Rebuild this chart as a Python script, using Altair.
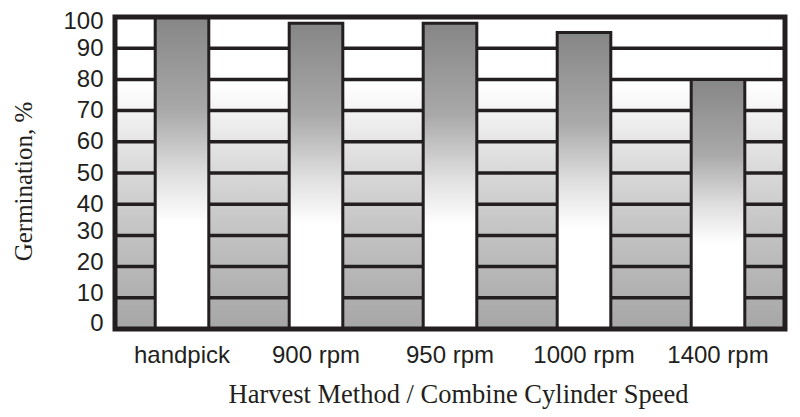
import altair as alt
import pandas as pd

categories = ["handpick", "900 rpm", "950 rpm", "1000 rpm", "1400 rpm"]
germination = [100, 98, 98, 95, 80]
grid_values = [10, 20, 30, 40, 50, 60, 70, 80, 90]
y_ticks = [0, 10, 20, 30, 40, 50, 60, 70, 80, 90, 100]

W, H = 670, 312
INK = "#231f20"

bars_df = pd.DataFrame({"method": categories, "germ": germination})
grid_df = pd.DataFrame({"g": grid_values})
one_df = pd.DataFrame({"a": [0]})

bg_grad = alt.LinearGradient(
    gradient="linear", x1=0, x2=0, y1=0, y2=1,
    stops=[
        alt.GradientStop(color="#ffffff", offset=0),
        alt.GradientStop(color="#ffffff", offset=0.22),
        alt.GradientStop(color="#efefef", offset=0.33),
        alt.GradientStop(color="#d8d8d8", offset=0.5),
        alt.GradientStop(color="#c2c2c2", offset=0.7),
        alt.GradientStop(color="#a6a6a6", offset=1),
    ],
)
bar_grad = alt.LinearGradient(
    gradient="linear", x1=0, x2=0, y1=0, y2=1,
    stops=[
        alt.GradientStop(color="#868686", offset=0),
        alt.GradientStop(color="#a9a9a9", offset=0.3),
        alt.GradientStop(color="#dedede", offset=0.5),
        alt.GradientStop(color="#ffffff", offset=0.66),
        alt.GradientStop(color="#ffffff", offset=1),
    ],
)

yscale = alt.Scale(domain=[0, 100], nice=False, zero=True)

label_offset = {
    "condition": [
        {"test": "datum.value == 100", "value": 4},
        {"test": "datum.value <= 30 && datum.value >= 10", "value": -4},
        {"test": "datum.value == 0", "value": -6},
    ],
    "value": 0,
}

yaxis = alt.Axis(
    values=y_ticks, grid=False, ticks=False, domain=False, labelPadding=12,
    labelOverlap=False, labelOffset=label_offset,
    labelFont="Liberation Sans", labelFontSize=24, labelColor=INK,
    title="Germination, %",
    titleFont="Liberation Serif", titleFontSize=25, titleFontWeight="normal",
    titleColor=INK, titleX=-84, titleY=164, titleBaseline="alphabetic",
    titleAlign="center", titleAngle=270,
)

background = alt.Chart(one_df).mark_rect(fill=bg_grad, strokeWidth=0).encode(
    x=alt.value(0), x2=alt.value(W),
    y=alt.YDatum(100, scale=yscale, axis=yaxis), y2=alt.Y2Datum(0),
)

grid = alt.Chart(grid_df).mark_rule(color=INK, strokeWidth=3.5).encode(
    y=alt.Y("g:Q", scale=yscale, axis=yaxis),
    x=alt.value(0), x2=alt.value(W),
)

bars = alt.Chart(bars_df).mark_bar(fill=bar_grad, stroke=INK, strokeWidth=3).encode(
    x=alt.X(
        "method:N", sort=None,
        scale=alt.Scale(paddingInner=0.6, paddingOuter=0.3),
        axis=alt.Axis(
            title="Harvest Method / Combine Cylinder Speed",
            labelAngle=0, ticks=False, domain=False, labelPadding=14,
            labelFont="Liberation Sans", labelFontSize=24, labelColor=INK,
            titleFont="Liberation Serif", titleFontSize=26.5, titleFontWeight="normal",
            titleColor=INK, titleX=343, titleY=73, titleBaseline="alphabetic",
        ),
    ),
    y=alt.Y("germ:Q", scale=yscale, axis=yaxis),
)

frame = alt.Chart(one_df).mark_rect(fillOpacity=0, stroke=INK, strokeWidth=5).encode(
    x=alt.value(0), x2=alt.value(W),
    y=alt.YDatum(100, scale=yscale, axis=yaxis), y2=alt.Y2Datum(0),
)

chart = alt.layer(background, grid, bars, frame).properties(
    width=W, height=H,
    autosize=alt.AutoSizeParams(type="none"),
    padding={"left": 107, "top": 9, "right": 7, "bottom": 80},
).configure_view(stroke=None).configure(background="white")

chart.save("out.html", embed_options={"renderer": "svg", "actions": False})
